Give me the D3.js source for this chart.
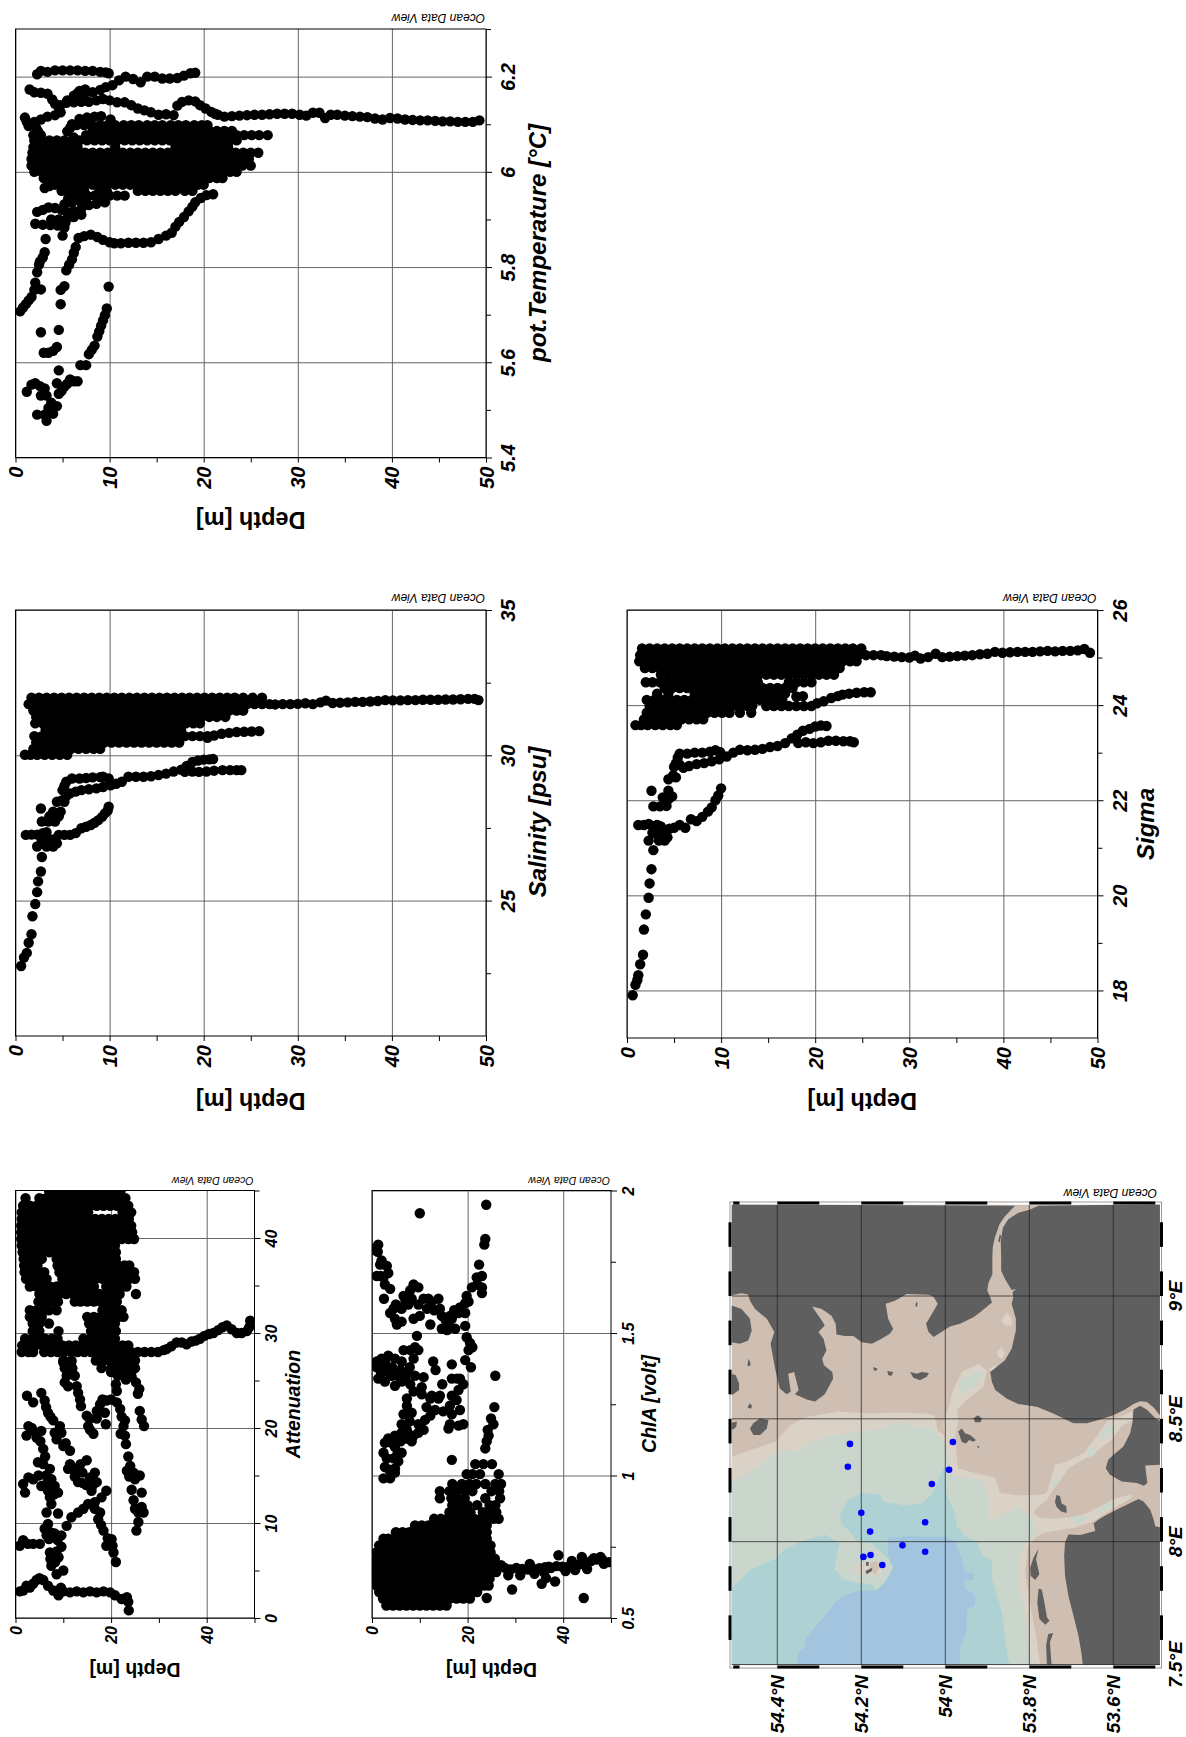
<!DOCTYPE html>
<html>
<head>
<meta charset="utf-8">
<script src="https://cdnjs.cloudflare.com/ajax/libs/d3/7.8.5/d3.min.js"></script>
<style>
  body { margin: 0; background: #fff; }
  text { font-family: "Liberation Sans", Arial, sans-serif; fill: #000; }
</style>
</head>
<body>
<svg id="page" width="1186" height="1737"></svg>
<script>
// Rows: [value, [depths...]] for the dense traces, pairs: [depth, value] for the loose ones.
const tempRows = [
  [6.098,[6.5,7.3,8.1,9,9.8,10.6,11.5,12.3,13.1,14,14.8,15.6,16.5,17.3,18.1,19,19.8,20.4]],
  [6.086,[8.2,9,9.8,10.6,11.5,12.3,13.1,14,14.8,15.6,16.5,17.3,18.1,19,19.8,20.6,21.4,22.2,23]],
  [6.077,[1.9,2.7,7.5,8.3,9.1,9.9,10.7,11.5,12.3,13.1,13.9,14.7,15.5,16.3,17.1,17.9,18.7,19.5,20.3,21.1,21.9,22.7,23.5,24.3,25.1,25.9,26.8]],
  [6.066,[2,2.8,3.6,4.4,5.2,6,6.8,7.6,8.4,9.2,10,10.8,11.6,12.4,13.2,14,14.8,15.6,16.4,17.2,18,18.8,19.6,20.4,21.2,22,22.8,23.5]],
  [6.052,[1.9,2.7,3.5,4.3,5.1,5.9,6.6,10.6,17,17.8,18.6,19.4,20.2,21,21.8,22.6]],
  [6.04,[1.8,2.6,3.4,4.2,5,5.8,6.6,7.4,8.2,9,9.8,10.6,11.4,12.2,13,13.8,14.6,15.4,16.2,17,17.8,18.6,19.4,20.2,21,21.8,22.6,23.4,24.2,25,25.8]],
  [6.027,[1.7,2.5,3.3,4.1,4.9,5.7,6.5,7.3,8.1,8.9,9.7,10.5,11.3,12.1,12.9,13.7,14.5,15.3,16.1,16.9,17.7,18.5,19.3,20.1,20.9,21.7,22.5,23.3,24.1,24.8]],
  [6.013,[1.7,2.5,3.3,4.1,4.9,5.7,6.5,7.3,8.1,8.9,9.7,10.5,11.3,12.1,12.9,13.7,14.5,15.3,16.1,16.9,17.7,18.5,19.3,20.1,20.9,21.7,22.5,23.3,24.1,25]],
  [6.0,[2,2.8,3.6,4.4,5.2,6,6.8,7.6,8.4,9.2,10,10.8,11.6,12.4,13.2,14,14.8,15.6,16.4,17.2,18,18.8,19.6,20.4,21.2,22,22.8,23.5]],
  [5.987,[3,3.8,4.6,5.4,6.2,7,7.8,8.6,9.4,10.2,11,11.8,12.6,13.4,14.2,15,15.8,16.6,17.4,18.2,19,19.8,20.6,21.4,22]],
  [5.973,[4.2,5,5.8,6.6,7.4,8.2,9,9.8,10.6,11.4,12.2,13,13.8,14.6,15.4,16.2,17,17.8,18.6,19.4,20]],
  [5.96,[4.9,5.7,6.5,7.3,8.9,9.7,13,13.8,14.6,15.4,16.2,17,18,18.8]],
  [5.95,[6,6.8,7.6,8.4,9.2,10,10.8,11.6]]
];
const tempPts = [
  [21.5,6.12],[22.2,6.116],[23,6.117],[23.8,6.118],[24.6,6.119],[25.4,6.12],[26.2,6.12],[27,6.121],[27.8,6.122],[28.6,6.122],[29.4,6.122],[30.2,6.12],[30.9,6.118],[31.6,6.124],[32.3,6.124],[32.9,6.113],[33.5,6.12],[34.2,6.12],[35,6.118],[35.8,6.117],[36.6,6.116],[37.4,6.115],[38.2,6.112],[39,6.11],[39.8,6.113],[40.6,6.112],[41.4,6.11],[42.2,6.109],[43,6.108],[43.8,6.108],[44.6,6.107],[45.4,6.106],[46.2,6.106],[47,6.105],[47.8,6.105],[48.6,6.105],[49.3,6.108],
  [2.3,6.205],[2.7,6.212],[3.4,6.21],[4.2,6.213],[5,6.213],[5.8,6.213],[6.6,6.213],[7.4,6.212],[8.2,6.212],[9,6.21],[9.6,6.209],[9.9,6.207],
  [6.6,6.165],[7.4,6.165],[8.2,6.167],[9,6.172],[9.6,6.178],[10.3,6.182],[11,6.192],[11.7,6.2],[12.5,6.195],[13.3,6.188],[14,6.2],[14.8,6.2],[15.6,6.196],[16.4,6.196],[17.2,6.197],[17.9,6.202],[18.6,6.207],[19.1,6.208],
  [4.8,6.14],[5.5,6.15],[6.2,6.16],[6.8,6.17],[7.4,6.173],
  [1.5,6.173],[2,6.167],[2.7,6.166],[3.4,6.164],[3.9,6.152],[4.2,6.143],[4.6,6.135],
  [5.4,6.145],[6.2,6.146],[7,6.147],[7.8,6.147],[8.6,6.15],[9.3,6.153],[10,6.15],[10.8,6.146],[11.6,6.146],[12.3,6.14],[13,6.133],[13.7,6.129],[14.4,6.125],[15.2,6.12],[16,6.121],[16.8,6.119],
  [1,6.114],[1.2,6.105],[1.4,6.096],[2,6.105],[2.7,6.11],[3.4,6.116],[4.2,6.119],[4.8,6.125],
  [17.2,6.139],[17.7,6.147],[18.4,6.15],[19.1,6.148],[19.6,6.14],[20.2,6.133],[20.8,6.126],[21.2,6.122],
  [5.8,6.092],[6,6.1],[6.8,6.111],[7.6,6.114],[8.4,6.116],[9.1,6.117],[10.1,6.11],
  [2.4,6.085],[2.2,6.092],[5.5,6.085],[6.2,6.072],
  [0.5,5.707],[0.8,5.715],[1.1,5.722],[1.4,5.73],[1.7,5.737],[2,5.752],[2.1,5.767],[2.7,5.753],[2.3,5.789],[2.5,5.805],[2.6,5.812],[2.9,5.82],[3.1,5.831],[3.2,5.859],
  [2.7,5.663],[4.6,5.668],[4.8,5.722],[4.8,5.752],[5.2,5.76],[4.4,5.632],[3.5,5.62],[4,5.624],[3,5.62],[4.6,5.583],[4.4,5.556],
  [9.9,5.759],[9.7,5.713],[9.5,5.699],[9.3,5.688],[9.1,5.677],[8.9,5.665],[8.7,5.654],[8.4,5.635],[8.1,5.626],[7.8,5.617],[7.5,5.594],[6.9,5.594],[6.6,5.56],[6.2,5.56],[5.8,5.564],[5.2,5.549],[4.6,5.534],[4.4,5.508],[4,5.492],[3.3,5.477],[2.3,5.49],[3.1,5.49],[3.5,5.504],[3.8,5.515],[3.1,5.545],[2.7,5.53],[2.1,5.556],[1.7,5.553],[1.2,5.538],[2.6,5.55],[3.3,5.53],[5.5,5.555],[4.9,5.54],
  [5.4,5.793],[5.7,5.805],[6,5.816],[6.2,5.83],[6.4,5.842],[6.7,5.861],[7.3,5.865],[8,5.868],[8.7,5.863],[9.3,5.857],[10,5.852],[10.5,5.85],[11.2,5.85],[12,5.851],[12.8,5.851],[13.6,5.851],[14.4,5.852],[15.2,5.859],[16,5.866],[16.6,5.872],[17,5.885],[17.4,5.895],[17.9,5.905],[18.4,5.917],[18.8,5.927],[19.1,5.936],[19.7,5.945],[20.3,5.951],[21,5.953],
  [5,5.866],[5.2,5.883],[2.1,5.891],[2.9,5.889],[3.7,5.888],[4.5,5.887],[5.3,5.893],
  [2.3,5.916],[2.9,5.92],[3.5,5.925],[4.2,5.924],[4.9,5.92],[5.5,5.915],[6.2,5.917],[7,5.923],[7.8,5.93],[8.6,5.933],[9.5,5.936],[3.8,5.9],[4.6,5.9],[5.4,5.9],[6.2,5.905],[7,5.91],
  [3.1,5.966],[3.6,5.97],[5.2,5.932],[5.6,5.944],[6,5.935],[6.8,5.94],[7.5,5.942]
];
const salRows = [
  [31.98,[1.7,2.5,3.3,4.1,4.9,5.7,6.5,7.3,8.1,8.9,9.7,10.5,11.3,12.1,12.9,13.7,14.5,15.3,16.1,16.9,17.7,18.5,19.3,20.1,20.9,21.7,22.5,23.3,24.2,25.2,26.2]],
  [31.76,[1.4,2.2,3,3.8,4.6,5.4,6.2,7,7.8,8.6,9.4,10.2,11,11.8,12.6,13.4,14.2,15,15.8,16.6,17.4,18.2,19,19.8,20.6,21.4,22.2,23,23.8,24.6,25.4,26.2,27]],
  [31.54,[1.9,2.7,3.5,4.3,5.1,5.9,6.7,7.5,8.3,9.1,9.9,10.7,11.5,12.3,13.1,13.9,14.7,15.5,16.3,17.1,17.9,18.7,19.5,20.3,21.1,21.9,22.7,23.5,24.2]],
  [31.32,[2.2,3,3.8,4.6,5.4,6.2,7,7.8,8.6,9.4,10.2,11,11.8,12.6,13.4,14.2,15,15.8,16.6,17.4,18.2,19,19.8,20.6,21.4,22.3]],
  [31.1,[2.1,2.9,3.7,4.5,5.3,6.1,6.9,7.7,8.5,9.3,10.1,10.9,11.7,12.5,13.3,14.1,14.9,15.7,16.5,17.3,18.1,18.9,19.6]],
  [30.88,[3.2,4,4.8,5.6,6.4,7.2,8,8.8,9.6,10.4,11.2,12,12.8,13.6,14.4,15.2,16,16.8,17.6]],
  [30.66,[2,2.8,3.6,4.4,5.2,6,6.8,7.6,8.4,9.2,10,10.8,11.6,12.4,13.2,14,14.8,15.6,16.4,17.2,18,18.8,19.6,20.4]],
  [30.44,[2.2,3,3.8,4.6,5.4,6.2,7,7.8,8.6,9.4,10.2,11,11.8,12.6,13.4,14.2,15,15.8,16.6,17.4]],
  [30.22,[1.9,2.7,3.5,4.3,5.1,5.9,6.7,7.5,8.3,9]],
  [30.02,[1,1.6,2.3,3.1,3.9,4.7,5.5]]
];
const salPts = [
  [27.6,31.75],[28.4,31.76],[29.2,31.76],[30,31.77],[30.8,31.79],[31.6,31.76],[32.4,31.82],[33,31.88],[33.7,31.8],[34.5,31.81],[35.3,31.82],[36.1,31.84],[36.9,31.84],[37.7,31.85],[38.5,31.87],[39.3,31.9],[40.1,31.89],[40.9,31.89],[41.7,31.9],[42.5,31.9],[43.3,31.91],[44.1,31.91],[44.9,31.91],[45.7,31.92],[46.5,31.92],[47.3,31.93],[48.1,31.94],[48.8,31.94],[49.2,31.9],
  [20.4,30.6],[21.1,30.68],[21.9,30.74],[22.7,30.77],[23.5,30.8],[24.3,30.81],[25.1,30.82],[25.9,30.83],
  [0.6,22.75],[0.9,23.04],[1.2,23.2],[1.4,23.55],[1.7,23.84],[1.8,24.46],[2.1,24.88],[2.3,25.29],[2.4,25.66],[2.7,26],[2.8,26.5],
  [1.1,27.26],[1.7,27.27],[2.3,27.27],[2.9,27.32],[2.3,26.86],[3.3,27.35],[3.3,26.86],[4,26.86],[4.4,26.97],[4.6,27.26],[3.5,27.08],[2.8,27.08],[4,27.1],
  [5.2,27.26],[5.8,27.26],[6.4,27.32],[7,27.49],[7.5,27.54],[8,27.6],[8.4,27.68],[8.8,27.77],[9.2,27.88],[9.5,28],[9.8,28.1],[9.9,28.23],
  [2.7,28.17],[2.8,27.72],[3.5,27.72],[4.2,27.72],[4.6,27.9],[4.8,28.06],[4,28.06],[3.6,27.9],[4.4,28.4],[4.9,28.45],[5.2,28.4],[5,28.8],[5.4,29.09],[5.2,28.95],[6,29.2],[6.8,29.2],[7.5,29.22],[8.2,29.24],[9,29.25],[9.3,29.26],[9.9,29.2],[5.4,28.6],
  [5.8,28.69],[6.4,28.75],[7,28.8],[7.8,28.83],[8.6,28.86],[9.3,28.91],[10.1,28.97],[10.7,29.02],[11.3,29.09],[12,29.26],[12.8,29.26],[13.6,29.26],[14.4,29.28],[15.2,29.32],[16,29.37],[16.8,29.44],[17.6,29.5],[18.2,29.63],[18.8,29.77],[19.4,29.82],[20,29.85],[20.6,29.86],[21,29.87],
  [18,29.43],[18.8,29.44],[19.5,29.43],[20.3,29.44],[21.1,29.47],[22,29.49],[22.8,29.49],[23.5,29.49],[24,29.49]
];
const sigmaRows = [
  [25.19,[1.6,2.4,3.2,4,4.8,5.6,6.4,7.2,8,8.8,9.6,10.4,11.2,12,12.8,13.6,14.4,15.2,16,16.8,17.6,18.4,19.2,20,20.8,21.6,22.4,23.2,24,24.9]],
  [25.05,[1.4,2.2,3,3.8,4.6,5.4,6.2,7,7.8,8.6,9.4,10.2,11,11.8,12.6,13.4,14.2,15,15.8,16.6,17.4,18.2,19,19.8,20.6,21.4,22.2,23,23.8,24.6,25.4,26.2,27]],
  [24.92,[1.3,2.1,2.9,3.7,4.5,5.3,6.1,6.9,7.7,8.5,9.3,10.1,10.9,11.7,12.5,13.3,14.1,14.9,15.7,16.5,17.3,18.1,18.9,19.7,20.5,21.3,22.1,22.9,23.7,24.4]],
  [24.78,[1.9,2.7,3.5,4.3,5.1,5.9,6.7,7.5,8.3,9.1,9.9,10.7,11.5,12.3,13.1,13.9,14.7,15.5,16.3,17.1,17.9,18.7,19.5,20.3,21.1,21.9,22.6]],
  [24.64,[3.6,4.4,5.2,6,6.8,7.6,8.4,9.2,10,10.8,11.6,12.4,13.2,14,14.8,15.6,16.4,17.2,18,18.8,19.6,20.4,21.2,22]],
  [24.48,[2,2.7,3.5,4.3,5.1,5.9,6.7,7.5,8.3,9.1,9.9,10.7,11.5,12.3,13.1,13.9,17.2,18,18.8,19.6]],
  [24.36,[4,4.8,5.6,6.4,7.2,8,8.8,9.6,10.4,11.2,12,12.8,13.6,14.4,15.2,16,16.8,17.6]],
  [24.24,[3.2,4.4,7.2,8,8.8,9.6,10.4,11.2,12,12.8,13.6,14.4,15.2,16,16.8]],
  [24.11,[2.1,2.9,3.7,4.5,5.3,6.1,6.9,7.7,8.5,9.3,10.1,10.9,11.7,12.5,13.3,14.1,14.9,15.7,16.5]],
  [23.98,[2.4,3.2,4,4.8,5.6,6.4,7.2,8,8.8,9.6,10.4,11.2,12,12.8,13.3,14.8,15.6,16.4,17.2,18,18.8,19.6]],
  [23.84,[2.1,2.9,3.7,4.5,5.3,6.1,6.9,7.7,8.5,9.3,10.1,10.9,12,13.2]],
  [23.7,[1.8,2.6,3.4,4.2,5,5.8,6.6,7.4,8.1]],
  [23.58,[0.9,1.5,2.2,3,3.8,4.6,5.3]]
];
const sigmaPts = [
  [27.6,25.03],[28.4,25.02],[29.2,25.01],[30,25],[30.6,25.04],[31.2,24.98],[32,25.01],[32.8,25.08],[33.5,25.01],[34.3,25.02],[35.1,25.03],[35.9,25.04],[36.7,25.05],[37.5,25.07],[38.3,25.08],[39.1,25.12],[39.9,25.1],[40.7,25.11],[41.5,25.12],[42.3,25.12],[43.1,25.12],[43.9,25.13],[44.7,25.14],[45.5,25.13],[46.3,25.14],[47.1,25.14],[47.9,25.15],[48.6,25.18],[49.2,25.1],
  [20.2,24.04],[20.9,24.08],[21.7,24.15],[22.4,24.19],[22.9,24.22],[23.6,24.24],[24.4,24.26],[25.2,24.27],[25.9,24.27],[18,24.18],[18.7,24.19],
  [0.6,17.9],[0.9,18.12],[1.1,18.22],[1.2,18.32],[1.4,18.55],[1.7,18.75],[1.8,19.28],[2,19.6],[2.3,19.95],[2.4,20.25],[2.6,20.55],[2.8,20.95],
  [1.2,21.48],[1.8,21.48],[2.3,21.5],[2.8,21.45],[3.2,21.48],[3.6,21.45],[2.3,21.15],[3,21.3],[3.4,21.15],[4,21.15],[4.3,21.22],[4.5,21.4],[2.7,21.32],[3.7,21.32],
  [5,21.42],[5.6,21.48],[6.2,21.42],[6.8,21.6],[7.4,21.56],[8,21.65],[8.6,21.76],[9,21.85],[9.4,22],[9.7,22.1],[10,22.25],
  [2.6,22.2],[2.8,21.87],[3.5,21.87],[4.2,21.88],[4.4,22.02],[4.8,22.08],[3.8,22.06],[4.4,22.2],[4.4,22.44],[4.9,22.52],[5.2,22.48],[5,22.7],[5.4,22.9],[5.2,22.78],[5.6,22.98],[6.4,22.98],[7.2,23],[8,23],[8.8,23.02],[9.4,23.05],[9.9,23.01],[5.6,22.75],
  [6,22.68],[6.6,22.72],[7.4,22.76],[8.2,22.78],[9,22.82],[9.8,22.86],[10.6,22.92],[11.3,23],[12,23.06],[12.8,23.05],[13.6,23.06],[14.4,23.08],[15.2,23.12],[16,23.14],[16.8,23.2],[17.5,23.3],[18.1,23.38],[18.7,23.46],[19.4,23.5],[20,23.55],[20.6,23.57],[21.2,23.56],
  [18.2,23.2],[19,23.22],[19.8,23.2],[20.6,23.22],[21.4,23.25],[22.2,23.25],[23,23.24],[23.7,23.24],[24.1,23.22]
];
const attenRows = [
  [45,[7,8.4,9.8,11.2,12.6,14,15.4,16.8,18.2,19.6,21,22]],
  [44.2,[2.1,5,6.4,7.8,9.2,10.6,12,13.4,14.8,16.2,17.6,19,20.4,21.8,23]],
  [43.4,[1.6,3,4.4,5.8,7.2,8.6,10,11.4,12.8,14.2,15.6,17,18.4,19.8,21.2,22.6,23.6]],
  [42.7,[1.3,2.7,4.1,5.5,6.9,8.3,9.7,11.1,12.5,13.9,15.2,22.4,23.8,24.2]],
  [42,[1.3,2.7,4.1,5.5,6.9,8.3,9.7,11.1,12.5,13.9,15.3,16.7,18.1,19.5,20.9,22.3,23.7]],
  [41.3,[1.2,2.6,4,5.4,6.8,8.2,9.6,11,12.4,13.8,15.2,16.6,18,19.4,20.8,22.2,23.6,24.2]],
  [40.6,[1.2,2.6,4,5.4,6.8,8.2,9.6,11,12.4,13.8,15.2,16.6,18,19.4,20.8,22.2,23.6,24.4]],
  [39.9,[1.2,2.6,4,5.4,6.8,8.2,9.6,11,12.4,13.8,15.2,16.6,18,19.4,20.8,22.2,23.6,24.8]],
  [39.2,[1.3,2.7,4.1,5.5,6.9,8.3,9.7,11.1,12.5,13.9,15.3,16.7,18.1,19.5,20.8]],
  [38.5,[1.5,2.9,4.3,5.7,7.1,8.5,9.9,11.3,12.7,14.1,15.5,16.9,18.3,19.7,21]],
  [37.8,[1.7,3.1,4.5,5.5,8.6,10,11.4,12.8,14.2,15.6,17,18.4,19.8,21]],
  [37.1,[1.8,3.2,4.6,8.8,10.2,11.6,13,14.4,15.8,17.2,18.6,20,21.4,22.8,23.8]],
  [36.4,[1.9,3.3,4.7,6,9.2,10.6,12,13.4,14.8,16.2,17.6,19,20.4,21.8,23.2,24.8]],
  [35.7,[2.2,3.6,5,6.5,9.8,11.2,12.6,14,15.4,16.8,18.2,19.6,21,22.4,23.8,25]],
  [34.9,[3,4.4,5.8,7.2,8.6,10,11.4,12.8,14.2,15.6,16.4,19,20.4,21.8,23.2]],
  [34.1,[5,6.4,7.8,9.2,10.6,12,13.4,14.8,16.2,17.6,19,20.4,21.8,25.2]],
  [33.3,[4.8,6.2,7.6,8.9,12.4,13.6,15,16.4,17.8,19.2,20.6,21.2]],
  [32.4,[3,4.4,5.8,7,8.6,18.2,19.6,21,22.2]],
  [31.7,[3,4.3,5.5,15,16.4,17.8,19.2,20.6,21.6,22.6]],
  [31,[3.6,5,7,15.4,16.8,18.2,19.6,20.8]],
  [30.2,[3.6,5,9,15.8,17.2,18.6,20,21]],
  [29.4,[2,3.4,4.8,6.2,7.6,8.8,14.2,15.6,17,18.4,19.8,20.8]],
  [28.7,[1.4,2.8,4.2,5.6,7,8.4,9.8,11.2,12.6,14,15.4,16.8,18.2,19.6,21,22.4,23.6]],
  [28,[1.3,2.7,3.7,6,7.4,8.8,10.2,11.6,13,14.4,15.8,17.2,18.6,20,21.4,22.8,24.2,25.6,27,28.4]],
  [27.1,[10,11.7,16.8,18.2,19.6,21,22.4,23.8,25]],
  [26.3,[10.3,11.9,18,20,21.3,22.6,24,25]]
];
const attenPts = [
  [29.8,28],[31,28.2],[31.6,28.3],[32.6,28.6],[33.7,29],[34.8,29],[35.8,28.8],[36.8,29.1],[37.7,29.2],[38.6,29.4],[39.5,29.7],[40.5,29.9],[41.4,30],[42.4,30.3],[43.3,30.6],[44.2,30.8],[45.2,30.4],[46.3,30],[47.3,30],[48.4,30.2],[48.9,30.6],[49.1,31.3],
  [23.7,0.8],[23.6,1.7],[23.3,2.2],[22.2,2],[20.8,2.4],[19.8,2.7],[18.4,2.8],[17,2.7],[15.6,2.8],[14.2,2.7],[12.8,2.8],[11.4,2.7],[10,2.8],[9,2.4],[7.9,2.9],[6.8,3.4],[5.8,4],[5,4.2],[3.7,3.6],[2.3,3.4],[0.9,2.8],[1.6,2.9],[3,3.2],[9.5,3.2],[4.4,4],
  [8.6,4.6],[10,5],[7.5,5.5],[7.9,6.4],[7.2,6.9],[9,6.4],[9.6,7.5],[8.3,5.9],[8.6,7],[7.3,6.2],
  [0.9,7.6],[1.6,8.2],[2.6,7.8],[3.7,7.8],[5.1,7.8],[6.5,8.7],[7.4,9],[8.2,8.9],[9.6,8.7],[10.7,9.7],[11.7,10.6],[13.1,11.1],[14.2,11.5],[15.2,12],[16.6,12.2],[18,12.7],[19,13.4],[6.1,9.4],[7,8.3],[8.8,8.2],
  [21,5.9],[20.5,6.9],[20.1,8.3],[19,7.6],[19.3,8.4],[18.4,9.2],[17.3,10.4],[17.7,11.1],[16.6,11.5],[20.3,7.6],[17.9,9.8],
  [25.3,9.2],[25.7,10.1],[26.8,11.1],[25,11.5],[26.4,11.7],[24.7,12.4],[26.4,13.2],[24.3,13.5],[26,15],[24.7,15.3],[23.3,15.5],[24,16],[23.6,17],[25,14.6],[23.8,14.9],[25.7,11.1],
  [23.1,18.3],[22.9,19.2],[22.6,20.2],[22.9,20.8],[21.9,22],[21.2,23.9],[21.2,22.7],[22.2,21.2],[22,19.4],
  [26.9,20.2],[26.4,20.9],[26,21.8],[25.6,23.6],[25.9,24.1],[25.2,24.8],
  [10,18.1],[11.4,17.6],[10.5,18.4],[11.4,16.2],[11,15.7],[12.4,15.5],[14.9,16.6],[13.6,16.2],[14,15.3],[12.4,14.9],[13.1,14.3],[16.6,15.3],[15.6,14.8],[17,14.3],[15.9,13.4],[14.1,14.2],[13.1,15.8],[14.8,14],[16.2,14],
  [2.4,23.4],[3.7,22.7],[5.4,23.7],[6.1,22.9],[6.8,21.6],[6.4,22.2],[7.9,20.8],[7.3,21.2],[9.3,20.2],[8.2,19.5],[9.6,19.5],[8.6,18.8],[2.7,20.2],[2.3,19.2],[3.7,19.7],[5.4,19.7],[4.4,19],[3.4,20],[5.8,17.8],[5.2,18.6],[4.7,16.4],[5.8,16.2],[6.2,17],[7.2,15.7],[6.4,15],[7.5,14.6],[2.7,14.8],[1.6,14.1],[2,13.2],[3.7,14.6],[5.4,13.9],[6.6,14.2],[8.2,13.9],[8.9,13.2],[7.2,12.7],[7.5,12],[6.5,11.1],[8.9,11],[6.8,9.9],[8,13],[6.8,13.4],[4.8,15],
  [10,26.9],[10.7,25.5],[11,24.4],[10.3,24.8],[11.7,27],[12.4,25.5],[12.8,24.4],[13.5,23],[13.1,23.7],[13.7,22.3],[14.9,21.3],[15.2,20.2],[16.3,19.4],[15.6,19.8],[17,21.8],[17.7,22.5],[19,22.9],[20,23],[18.7,21.6],[17,21],[18.9,20.4],[15.5,21],[18.2,23],[11.8,26],[10.9,26],
  [20,25.9],[21,24.6],[22.9,26.1],[24.7,26.2],[24.3,25.4],[21.4,25.5],[23.1,25.1],[22,26],[24.5,27.2]
];
const chlRows = [
  [0.544,[3,4.4,5.8,7.2,8.6,10,11.4,12.8,14.2,15.6]],
  [0.568,[2.3,3.7,5.1,6.5,7.9,9.3,10.7,12.1,13.5,14.9,16.3,17.7,19.1,20.5]],
  [0.591,[1.5,2.9,4.3,5.7,7.1,8.5,9.9,11.3,12.7,14.1,15.5,16.9,18.3,19.7,21.1,22]],
  [0.614,[1,2.4,3.8,5.2,6.6,8,9.4,10.8,12.2,13.6,15,16.4,17.8,19.2,20.6,22,23.4,24.4]],
  [0.638,[0.8,2.2,3.6,5,6.4,7.8,9.2,10.6,12,13.4,14.8,16.2,17.6,19,20.4,21.8,23.2,24.6]],
  [0.661,[0.8,2.2,3.6,5,6.4,7.8,9.2,10.6,12,13.4,14.8,16.2,17.6,19,20.4,21.8,23.2,24.6,26]],
  [0.685,[0.8,2.2,3.6,5,6.4,7.8,9.2,10.6,12,13.4,14.8,16.2,17.6,19,20.4,21.8,23.2,24.6,26,27]],
  [0.708,[1,2.4,3.8,5.2,6.6,8,9.4,10.8,12.2,13.6,15,16.4,17.8,19.2,20.6,22,23.4,24.8,25.7]],
  [0.731,[1,2.4,3.8,5.2,6.6,8,9.4,10.8,12.2,13.6,15,16.4,17.8,19.2,20.6,22,23.4,24.8]],
  [0.755,[1.5,2.9,4.3,5.7,7.1,8.5,9.9,11.3,12.7,14.1,15.5,16.9,18.3,19.7,21.1,22.5,23.9,24.8]],
  [0.778,[2.4,3.4,4.8,6.2,7.6,9,10.4,11.8,13.2,14.6,16,17.4,18.8,20.2,21.6,23,24]],
  [0.801,[5,6.4,7.8,9.2,10.6,12,13.4,14.8,16.2,17.6,19,20.4,21.8,23.2,24]],
  [0.825,[9,10.4,11.8,13.2,14.6,16,17.4,18.8,20.2,21.6,23,24]],
  [0.848,[13,14.4,15.8,17.2,18.6,20,21.4,22.8,24.2,25.4,26.5]],
  [0.871,[16.2,17.6,19,20.6,23.2,25,26]],
  [0.896,[16.8,18.2,20,22,25.8,24.6]],
  [0.92,[14.2,16.6,17.8,19.4,23.7,26.8]],
  [0.945,[14.2,16.2,17.6,19.4,21,25,26.6]],
  [0.97,[16.8,18.8,20.4,21.8,23.7,25.8,27]],
  [1.005,[19.8,21,22.6,26.5]],
  [1.04,[21.6,23.3,25.1]]
];
const chlPts = [
  [27.8,0.676],[29,0.67],[30.2,0.676],[31.4,0.672],[32.6,0.67],[33.8,0.672],[35,0.675],[36.2,0.678],[37.4,0.675],[38.6,0.682],[39.8,0.68],[41,0.68],[42.2,0.686],[43.4,0.688],[44.6,0.692],[45.8,0.7],[47,0.705],[48.2,0.705],[49.5,0.696],[47.8,0.714],[46.4,0.71],[43.9,0.714],[41.8,0.7],[39,0.72],[36,0.66],[34,0.655],[31,0.65],[28.5,0.65],[40.5,0.665],[42.5,0.668],[45,0.672],[48.5,0.69],[37,0.68],[33,0.69],
  [44.3,0.57],[24,0.57],[29.3,0.6],[35.5,0.62],[36.4,0.64],[38.3,0.628],
  [23.9,1.95],[10,1.92],[23.7,1.83],[23.5,1.81],[0.9,1.8],[1.3,1.81],[0.7,1.79],[1.2,1.785],
  [2,1.755],[1.7,1.74],[3.1,1.735],[3.4,1.71],[1,1.7],[2.4,1.695],[2.7,1.67],[3.8,1.655],[2.5,1.62],[1.8,1.7],
  [22.4,1.74],[23,1.7],[21.9,1.695],[23,1.66],[23,1.64],[20.9,1.66],[19.8,1.63],[19.5,1.605],[18.4,1.59],[19.5,1.57],[19.5,1.525],[20.2,1.61],[22,1.67],
  [8.7,1.67],[9.7,1.66],[8,1.65],[6.6,1.63],[8.3,1.62],[10.8,1.62],[13.9,1.62],[12.5,1.61],[7.6,1.6],[4.5,1.585],[9.7,1.6],[6.2,1.585],[3.8,1.57],[11.5,1.585],[14.2,1.585],[8.7,1.55],[10,1.56],[4.8,1.55],[6.2,1.54],[5.2,1.53],[12.2,1.53],[14.6,1.56],[16.3,1.56],[18.1,1.57],[14.6,1.515],[16,1.525],[17.4,1.515],[15.7,1.51],[16.7,1.55],[17.2,1.58],[13,1.58],[5,1.6],[7,1.61],[11.8,1.62],[15.4,1.545],
  [9.4,1.49],[19.8,1.485],[20.5,1.465],[21,1.45],[20.2,1.44],[19.5,1.405],[20.7,1.38],[9,1.45],[9.7,1.44],[6.6,1.44],[8,1.44],
  [3.4,1.42],[2,1.41],[1,1.4],[2.7,1.4],[4.8,1.41],[1,1.38],[4.2,1.38],[2.4,1.375],[6.2,1.4],[8.7,1.41],[5.9,1.37],[7.3,1.36],[1.3,1.34],[2.7,1.33],[4.8,1.315],[4.1,1.35],[6.2,1.33],[7.9,1.38],[9,1.35],[3.6,1.36],[5.4,1.35],[7,1.34],[8,1.32],[1.9,1.36],
  [12.8,1.4],[13.3,1.37],[16.7,1.39],[16.7,1.34],[18.4,1.34],[19.1,1.32],[14.7,1.32],[25.8,1.35],[25.6,1.24],[24.9,1.2],[25.4,1.18],[24.4,1.14],[24,1.12],[23.7,1.095],[24.2,1.16],[16.7,1.055],[10.8,1.345],[17.8,1.34],
  [7.3,1.27],[8.7,1.295],[10.4,1.31],[12.5,1.28],[14.2,1.28],[16.7,1.28],[18.1,1.3],[17.7,1.265],[16.3,1.245],[13.9,1.27],[12.2,1.27],[10.4,1.285],[11.4,1.24],[13.2,1.23],[14.9,1.225],[18.4,1.23],[16.7,1.215],[19.1,1.18],[18.1,1.175],[16.3,1.18],[16,1.165],[7.3,1.245],[6.6,1.215],[8.3,1.22],[7.9,1.19],[6.2,1.18],[7.3,1.16],[9.7,1.18],[12.2,1.21],[11.1,1.195],[10.8,1.16],[9.7,1.15],[8.7,1.14],[7.3,1.13],[8.3,1.12],[6.2,1.15],[4.8,1.14],[3.4,1.13],[2.7,1.115],[2.4,1.08],[4.1,1.115],[4.8,1.1],[6.2,1.08],[4.5,1.06],[5.5,1.05],[3.1,1.06],[4.8,1.025],[2.7,1.03],[2.4,0.99],[3.8,0.99],[4.8,1.01],[3.6,1.02],[6,1.12],[5.2,1.07]
];
const stationLat = [54.227,54.232,54.032,54.2,54.048,54.179,54.102,54.048,54.178,54.195,54.15,53.982,53.991];
const stationLon = [8.398,8.305,8.235,8.118,8.079,8.041,7.985,7.959,7.946,7.938,7.905,8.406,8.293];
const mapLatTicks = [54.4,54.2,54,53.8,53.6];
const mapLonTicks = [7.5,8,8.5,9];
const latBands = [[54.505,54.49],[54.4,54.3],[54.2,54.1],[54,53.9],[53.8,53.7],[53.6,53.5]];
const lonBands = [[9.3,9.2],[9.1,9],[8.9,8.8],[8.7,8.6],[8.5,8.4],[8.3,8.2],[8.1,8],[7.9,7.8],[7.7,7.6]];

// depth contours, [lat, lon]
const shelfLight = [
  [[54.509,8.347],[54.461,8.374],[54.406,8.407],[54.386,8.441],[54.37,8.475],[54.326,8.509],[54.255,8.529],[54.175,8.522],[54.112,8.526],[54.048,8.522],[54.026,8.515],[54.017,8.448],[54.001,8.434],[53.977,8.421],[53.973,8.347],[53.969,8.299],[53.925,8.276],[53.882,8.263],[53.87,8.198],[53.83,8.189],[53.774,8.191],[53.758,8.198],[53.747,8.266],[53.739,8.313],[53.711,8.326],[53.671,8.36],[53.639,8.428],[53.616,8.488],[53.556,8.529],[53.554,8.495],[53.58,8.471],[53.604,8.414],[53.635,8.374],[53.671,8.333],[53.707,8.299],[53.723,8.259],[53.743,8.212],[53.758,8.171],[53.782,8.137],[53.79,8.117],[53.774,8.097],[53.739,8.093],[53.679,8.104],[53.639,8.137],[53.592,8.178],[53.56,8.191],[53.554,8.181],[53.584,8.151],[53.624,8.11],[53.647,8.083],[53.695,8.056],[53.766,8.036],[53.786,8.016],[53.802,7.982],[53.806,7.928],[53.81,7.874],[53.805,7.82],[53.794,7.712],[53.785,7.631],[53.774,7.5],[54.509,7.5]],
  [[53.993,8.542],[53.981,8.617],[53.961,8.691],[53.921,8.722],[53.901,8.698],[53.909,8.63],[53.945,8.583],[53.973,8.536],[53.969,8.495],[53.977,8.421],[54.001,8.428],[54.005,8.482]],
  [[53.866,8.9],[53.854,8.934],[53.842,8.907],[53.842,8.88],[53.858,8.88]],
  [[53.878,8.772],[53.866,8.792],[53.858,8.765],[53.866,8.745],[53.874,8.752]],
  [[53.897,8.704],[53.881,8.718],[53.878,8.704],[53.889,8.691]]
];
const shelfGrey = [
  [[54.509,8.245],[54.477,8.272],[54.445,8.306],[54.414,8.353],[54.386,8.376],[54.354,8.367],[54.326,8.401],[54.287,8.425],[54.231,8.441],[54.175,8.455],[54.152,8.461],[54.124,8.482],[54.104,8.488],[54.072,8.468],[54.032,8.461],[54.017,8.434],[54.001,8.407],[53.994,8.34],[53.981,8.272],[53.965,8.263],[53.909,8.249],[53.897,8.184],[53.897,8.097],[53.882,8.09],[53.826,8.144],[53.806,8.11],[53.786,8.066],[53.778,8.043],[53.806,8.002],[53.818,7.969],[53.826,7.915],[53.828,7.847],[53.818,7.766],[53.808,7.658],[53.8,7.577],[53.794,7.5],[54.509,7.5]],
  [[53.703,8.097],[53.671,8.11],[53.659,8.097],[53.683,8.07]],
  [[53.639,8.131],[53.608,8.164],[53.6,8.144],[53.631,8.11]],
  [[53.751,8.239],[53.731,8.266],[53.727,8.245],[53.743,8.225]],
  [[53.663,8.374],[53.643,8.387],[53.639,8.36],[53.659,8.34]],
  [[53.635,8.441],[53.608,8.482],[53.6,8.461],[53.624,8.414]],
  [[53.965,8.657],[53.921,8.698],[53.909,8.684],[53.933,8.63],[53.957,8.603],[53.969,8.617]]
];
const shelfTeal = [
  [54.509,7.813],[54.485,7.847],[54.469,7.881],[54.437,7.908],[54.406,7.928],[54.382,7.969],[54.342,8.002],[54.287,8.029],[54.251,7.993],[54.259,7.942],[54.263,7.888],[54.243,7.847],[54.207,7.831],[54.175,7.826],[54.163,7.804],[54.145,7.834],[54.134,7.867],[54.124,7.894],[54.136,7.928],[54.155,7.962],[54.175,7.993],[54.211,8.002],[54.227,8.043],[54.247,8.07],[54.251,8.11],[54.231,8.171],[54.199,8.198],[54.155,8.191],[54.148,8.164],[54.096,8.147],[54.056,8.155],[54.028,8.198],[54.017,8.252],[54.001,8.313],[53.998,8.198],[53.977,8.117],[53.973,8.063],[53.953,8.023],[53.925,8.002],[53.913,7.948],[53.889,7.921],[53.889,7.847],[53.874,7.766],[53.862,7.685],[53.858,7.604],[53.85,7.523],[53.847,7.5],[54.509,7.5]
];
const shelfBlue = [
  [54.352,7.5],[54.35,7.55],[54.334,7.57],[54.334,7.604],[54.314,7.645],[54.29,7.692],[54.263,7.753],[54.243,7.78],[54.207,7.8],[54.163,7.8],[54.144,7.834],[54.132,7.861],[54.124,7.894],[54.136,7.942],[54.137,8.02],[54.12,8.016],[54.088,8.023],[54.048,8.02],[54.001,8.02],[53.977,8.002],[53.969,7.969],[53.961,7.928],[53.953,7.874],[53.933,7.871],[53.933,7.847],[53.955,7.84],[53.953,7.807],[53.929,7.786],[53.929,7.739],[53.949,7.726],[53.949,7.631],[53.957,7.604],[53.965,7.57],[53.965,7.5]
];
const helgolandBank = [[54.225,7.885],[54.191,7.921],[54.155,7.919],[54.151,7.874],[54.167,7.861],[54.207,7.867]];
const helgolandFlat = [[54.179,7.915],[54.163,7.921],[54.158,7.894],[54.167,7.863],[54.179,7.888]];

const land = [
  // north of the estuary
  [[54.509,9.373],[53.834,9.367],[53.858,9.325],[53.871,9.292],[53.882,9.238],[53.887,9.197],[53.888,9.157],[53.888,9.089],[53.897,9.055],[53.9,9.022],[53.893,8.995],[53.889,8.974],[53.917,8.934],[53.933,8.914],[53.965,8.887],[53.989,8.876],[54.013,8.849],[54.028,8.833],[54.04,8.853],[54.046,8.887],[54.032,8.927],[54.018,8.968],[54.028,8.997],[54.04,9.005],[54.092,9.008],[54.12,8.981],[54.142,8.968],[54.136,8.907],[54.124,8.866],[54.132,8.846],[54.152,8.826],[54.175,8.806],[54.199,8.812],[54.219,8.837],[54.239,8.837],[54.259,8.843],[54.261,8.887],[54.271,8.92],[54.294,8.947],[54.317,8.957],[54.294,8.9],[54.287,8.88],[54.302,8.853],[54.29,8.826],[54.283,8.779],[54.293,8.745],[54.289,8.718],[54.269,8.691],[54.267,8.664],[54.287,8.6],[54.31,8.571],[54.33,8.579],[54.358,8.6],[54.349,8.617],[54.36,8.691],[54.374,8.684],[54.368,8.61],[54.378,8.6],[54.394,8.623],[54.399,8.657],[54.406,8.711],[54.416,8.806],[54.407,8.853],[54.425,8.907],[54.453,8.947],[54.465,8.981],[54.469,9.005],[54.485,9.011],[54.505,9.005],[54.509,9.001]],
  // east of the estuary
  [[53.778,9.367],[53.798,9.352],[53.826,9.339],[53.85,9.312],[53.863,9.278],[53.868,9.224],[53.867,9.157],[53.867,9.103],[53.858,9.069],[53.842,9.024],[53.832,9.028],[53.84,9.015],[53.838,8.995],[53.842,8.968],[53.832,8.907],[53.832,8.86],[53.842,8.785],[53.858,8.738],[53.878,8.711],[53.893,8.691],[53.889,8.65],[53.881,8.617],[53.854,8.583],[53.826,8.56],[53.782,8.549],[53.743,8.522],[53.695,8.482],[53.663,8.482],[53.635,8.495],[53.6,8.515],[53.572,8.538],[53.552,8.56],[53.536,8.572],[53.52,8.569],[53.504,8.546],[53.489,8.515],[53.489,9.373]],
  [[53.552,8.538],[53.536,8.553],[53.519,8.536],[53.5,8.502],[53.489,8.492],[53.489,8.313],[53.524,8.31],[53.519,8.239],[53.527,8.228],[53.544,8.239],[53.58,8.245],[53.608,8.272],[53.618,8.299],[53.612,8.333],[53.6,8.353],[53.576,8.387],[53.56,8.441],[53.554,8.488]],
  [[53.54,8.174],[53.556,8.16],[53.584,8.137],[53.616,8.11],[53.635,8.09],[53.647,8.074],[53.643,8.043],[53.679,8.027],[53.707,8.029],[53.715,7.996],[53.717,7.942],[53.715,7.861],[53.707,7.78],[53.695,7.699],[53.683,7.618],[53.675,7.537],[53.673,7.5],[53.489,7.5],[53.489,8.059],[53.5,8.063],[53.504,8.09],[53.512,8.13],[53.528,8.164]],
  [[54.509,8.961],[54.485,8.947],[54.465,8.907],[54.461,8.86],[54.469,8.819],[54.489,8.806],[54.509,8.812]],
  [[54.509,8.684],[54.499,8.677],[54.491,8.644],[54.491,8.617],[54.505,8.6],[54.509,8.596]],
  [[54.469,8.745],[54.465,8.731],[54.463,8.718],[54.471,8.714]],
  [[54.465,8.563],[54.46,8.552],[54.463,8.541],[54.471,8.546]],
  [[54.07,8.974],[54.066,8.974],[54.067,8.957],[54.071,8.957]],
  [[54.171,8.711],[54.161,8.704],[54.166,8.695],[54.171,8.7]],
  [[54.138,8.695],[54.124,8.691],[54.128,8.675],[54.136,8.677]],
  [[54.084,8.691],[54.068,8.684],[54.056,8.691],[54.039,8.687],[54.044,8.671],[54.06,8.657],[54.076,8.667]],
  [[54.509,8.484],[54.496,8.488],[54.498,8.468],[54.505,8.457],[54.509,8.457]],
  [[54.465,8.461],[54.457,8.482],[54.441,8.502],[54.421,8.495],[54.425,8.461],[54.441,8.434],[54.457,8.434]],
  [[53.87,9.251],[53.867,9.244],[53.871,9.217],[53.874,9.224]],
  [[54.189,7.917],[54.182,7.917],[54.183,7.901],[54.188,7.901]],
  [[54.19,7.881],[54.174,7.894],[54.175,7.881],[54.187,7.867]],
  [[53.933,8.502],[53.923,8.515],[53.913,8.502],[53.916,8.486],[53.929,8.486]],
  [[53.969,8.448],[53.961,8.461],[53.953,8.441],[53.941,8.434],[53.927,8.414],[53.933,8.407],[53.943,8.414],[53.951,8.4],[53.961,8.407]],
  [[53.925,8.39],[53.919,8.387],[53.921,8.378]],
  [[53.735,8.191],[53.727,8.185],[53.723,8.155],[53.712,8.144],[53.711,8.117],[53.725,8.124],[53.735,8.141],[53.739,8.161]],
  [[53.778,7.971],[53.784,7.928],[53.776,7.867],[53.786,7.844],[53.797,7.861],[53.798,7.894],[53.79,7.935]],
  [[53.778,7.809],[53.77,7.804],[53.764,7.752],[53.758,7.692],[53.752,7.678],[53.762,7.662],[53.776,7.685],[53.781,7.752]],
  [[53.755,7.624],[53.743,7.628],[53.751,7.591],[53.747,7.5],[53.758,7.5],[53.76,7.577]]
];

const svg = d3.select('#page');
const defs = svg.append('defs');
let clipCount = 0;

const expand = (rows, pts) => rows.flatMap(r => r[1].map(d => [d, r[0]])).concat(pts);

function rotatedLabel(g, x, y, rot, size, txt, anchor, italic) {
    g.append('text')
        .attr('transform', 'translate(' + x + ',' + y + ') rotate(' + rot + ')')
        .attr('text-anchor', anchor || 'middle')
        .attr('dy', '.35em')
        .attr('font-size', size)
        .attr('font-weight', 'bold')
        .attr('font-style', italic === false ? 'normal' : 'italic')
        .text(txt);
}

function odvLabel(x, y, size) {
    svg.append('text')
        .attr('transform', 'translate(' + x + ',' + y + ') rotate(180)')
        .attr('dy', '.35em')
        .attr('font-size', size)
        .attr('font-style', 'italic')
        .text('Ocean Data View');
}

function profilePanel(p) {
    const x = d3.scaleLinear().domain([0, 50]).range([p.x0, p.x1]);
    const y = d3.scaleLinear().domain(p.domain).range([p.y1, p.y0]);
    const g = svg.append('g');
    const h = p.y1 - p.y0, w = p.x1 - p.x0;

    // grid
    g.append('g').attr('transform', 'translate(0,' + p.y1 + ')')
        .call(d3.axisBottom(x).tickValues(p.depthMajor).tickSize(-h).tickFormat(''))
        .call(s => s.select('.domain').remove())
        .selectAll('line').attr('stroke', '#666');
    g.append('g').attr('transform', 'translate(' + p.x1 + ',0)')
        .call(d3.axisRight(y).tickValues(p.valMajor).tickSize(-w).tickFormat(''))
        .call(s => s.select('.domain').remove())
        .selectAll('line').attr('stroke', '#666');

    // points
    const id = 'clip' + (clipCount++);
    defs.append('clipPath').attr('id', id).append('rect')
        .attr('x', p.x0).attr('y', p.y0).attr('width', w).attr('height', h);
    g.append('g').attr('clip-path', 'url(#' + id + ')')
        .selectAll('circle').data(p.points).join('circle')
        .attr('cx', d => x(d[0])).attr('cy', d => y(d[1])).attr('r', 5.2).attr('fill', '#000');

    g.append('rect').attr('x', p.x0).attr('y', p.y0).attr('width', w).attr('height', h)
        .attr('fill', 'none').attr('stroke', '#000');

    // axes
    const bottom = g.append('g').attr('transform', 'translate(0,' + p.y1 + ')')
        .call(d3.axisBottom(x).tickValues(p.depthMajor).tickSize(5));
    bottom.select('.domain').remove();
    bottom.selectAll('text')
        .attr('x', -p.depthGap).attr('y', 0).attr('dy', '.35em')
        .attr('transform', 'rotate(-90)')
        .style('text-anchor', 'end')
        .attr('font-size', p.tickSize).attr('font-weight', 'bold').attr('font-style', 'italic');
    g.append('g').attr('transform', 'translate(0,' + p.y1 + ')')
        .call(d3.axisBottom(x).tickValues(p.depthMinor).tickSize(5).tickFormat(''))
        .select('.domain').remove();

    const right = g.append('g').attr('transform', 'translate(' + p.x1 + ',0)')
        .call(d3.axisRight(y).tickValues(p.valMajor).tickSize(6).tickFormat(d3.format(p.fmt)));
    right.select('.domain').remove();
    right.selectAll('text')
        .attr('x', 0).attr('y', 0).attr('dy', '.35em')
        .attr('transform', 'translate(' + p.valGap + ',0) rotate(-90)')
        .style('text-anchor', 'middle')
        .attr('font-size', p.tickSize).attr('font-weight', 'bold').attr('font-style', 'italic');
    g.append('g').attr('transform', 'translate(' + p.x1 + ',0)')
        .call(d3.axisRight(y).tickValues(p.valMinor).tickSize(5).tickFormat(''))
        .select('.domain').remove();

    rotatedLabel(svg, p.title[1], p.title[2], -90, p.titleSize, p.title[0]);
    rotatedLabel(svg, (p.x0 + p.x1) / 2, p.depthY, 180, p.titleSize === 24 ? 23.5 : 19.5, 'Depth [m]', 'middle', false);
    odvLabel(p.x1 - 1, p.odvY, p.odvSize);
}

const dMajor = [0, 10, 20, 30, 40, 50], dMinor = [5, 15, 25, 35, 45];
profilePanel({
    x0: 15.5, x1: 486, y0: 29, y1: 457.5, domain: [5.4, 6.3], points: expand(tempRows, tempPts),
    depthMajor: dMajor, depthMinor: dMinor, valMajor: [5.4, 5.6, 5.8, 6, 6.2], valMinor: [5.5, 5.7, 5.9, 6.1, 6.3],
    fmt: '~g', tickSize: 20, titleSize: 24, depthGap: 9, valGap: 22, depthY: 520, odvY: 18, odvSize: 12,
    title: ['pot.Temperature [°C]', 538, 243]
});
profilePanel({
    x0: 15.5, x1: 486, y0: 610, y1: 1036, domain: [20.34, 35], points: expand(salRows, salPts),
    depthMajor: dMajor, depthMinor: dMinor, valMajor: [25, 30, 35], valMinor: [22.5, 27.5, 32.5],
    fmt: '~g', tickSize: 20, titleSize: 24, depthGap: 9, valGap: 22, depthY: 1101, odvY: 598, odvSize: 12,
    title: ['Salinity [psu]', 538, 822]
});
profilePanel({
    x0: 627, x1: 1097.5, y0: 610, y1: 1038, domain: [17, 26], points: expand(sigmaRows, sigmaPts),
    depthMajor: dMajor, depthMinor: dMinor, valMajor: [18, 20, 22, 24, 26], valMinor: [19, 21, 23, 25],
    fmt: '~g', tickSize: 20, titleSize: 24, depthGap: 9, valGap: 22, depthY: 1101, odvY: 598, odvSize: 12,
    title: ['Sigma', 1146, 824]
});
profilePanel({
    x0: 15.5, x1: 254.5, y0: 1190.5, y1: 1618, domain: [0, 45], points: expand(attenRows, attenPts),
    depthMajor: [0, 20, 40], depthMinor: [10, 30, 50], valMajor: [0, 10, 20, 30, 40], valMinor: [5, 15, 25, 35, 45],
    fmt: '~g', tickSize: 16, titleSize: 19.5, depthGap: 8, valGap: 17, depthY: 1670, odvY: 1180.5, odvSize: 10.5,
    title: ['Attenuation', 293, 1404]
});
profilePanel({
    x0: 372, x1: 611, y0: 1190.5, y1: 1618, domain: [0.5, 2], points: expand(chlRows, chlPts),
    depthMajor: [0, 20, 40], depthMinor: [10, 30, 50], valMajor: [0.5, 1, 1.5, 2], valMinor: [0.75, 1.25, 1.75],
    fmt: '~g', tickSize: 16, titleSize: 19.5, depthGap: 8, valGap: 17, depthY: 1670, odvY: 1180.5, odvSize: 10.5,
    title: ['ChlA [volt]', 649, 1404]
});

// station map
const mapBox = { x0: 731.5, x1: 1160, y0: 1204.5, y1: 1665.5 };
const xLat = d3.scaleLinear().domain([54.4, 53.6]).range([777.3, 1113.3]);
const yLon = d3.scaleLinear().domain([7.5, 9]).range([1664.5, 1296]);
const shape = d3.line().x(d => xLat(d[0])).y(d => yLon(d[1]));

const mapG = svg.append('g');
defs.append('clipPath').attr('id', 'clipMap').append('rect')
    .attr('x', mapBox.x0).attr('y', mapBox.y0)
    .attr('width', mapBox.x1 - mapBox.x0).attr('height', mapBox.y1 - mapBox.y0);
const inner = mapG.append('g').attr('clip-path', 'url(#clipMap)');
inner.append('rect').attr('x', mapBox.x0).attr('y', mapBox.y0)
    .attr('width', mapBox.x1 - mapBox.x0).attr('height', mapBox.y1 - mapBox.y0).attr('fill', '#cfbfb2');

function fillShapes(list, color) {
    inner.append('g').selectAll('path').data(list).join('path')
        .attr('d', d => shape(d) + 'Z').attr('fill', color);
}
fillShapes(shelfLight, '#dad2c6');
fillShapes(shelfGrey, '#cad5cc');
fillShapes([shelfTeal], '#aed2d3');
fillShapes([shelfBlue], '#a2c4df');
fillShapes([helgolandBank], '#dad2c6');
fillShapes([helgolandFlat], '#cfbfb2');
fillShapes(land, '#5f5f5f');

inner.append('g').selectAll('line').data(mapLatTicks).join('line')
    .attr('x1', d => xLat(d)).attr('x2', d => xLat(d)).attr('y1', mapBox.y0).attr('y2', mapBox.y1)
    .attr('stroke', '#222').attr('stroke-opacity', 0.75);
inner.append('g').selectAll('line').data(mapLonTicks).join('line')
    .attr('y1', d => yLon(d)).attr('y2', d => yLon(d)).attr('x1', mapBox.x0).attr('x2', mapBox.x1)
    .attr('stroke', '#222').attr('stroke-opacity', 0.75);

inner.append('g').selectAll('circle').data(stationLat).join('circle')
    .attr('cx', d => xLat(d)).attr('cy', (d, i) => yLon(stationLon[i])).attr('r', 3.3).attr('fill', '#0000ff');

// chequered frame
const band = 3;
const frame = mapG.append('g');
frame.append('rect').attr('x', mapBox.x0 - band).attr('y', mapBox.y0 - band)
    .attr('width', mapBox.x1 - mapBox.x0 + 2 * band).attr('height', mapBox.y1 - mapBox.y0 + 2 * band)
    .attr('fill', 'none').attr('stroke', '#fff').attr('stroke-width', 3);
frame.append('rect').attr('x', mapBox.x0 - 1.5).attr('y', mapBox.y0 - 2.5)
    .attr('width', mapBox.x1 - mapBox.x0 + 3).attr('height', mapBox.y1 - mapBox.y0 + 5)
    .attr('fill', 'none').attr('stroke', '#999');
[mapBox.y0 - band, mapBox.y1].forEach(top => {
    frame.append('g').selectAll('rect').data(latBands).join('rect')
        .attr('x', d => xLat(d[0])).attr('width', d => xLat(d[1]) - xLat(d[0]))
        .attr('y', top).attr('height', band).attr('fill', '#000');
});
[mapBox.x0 - band, mapBox.x1].forEach(left => {
    frame.append('g').selectAll('rect').data(lonBands).join('rect')
        .attr('y', d => yLon(d[0])).attr('height', d => yLon(d[1]) - yLon(d[0]))
        .attr('x', left).attr('width', band).attr('fill', '#000');
});

mapLatTicks.forEach(d => rotatedLabel(svg, xLat(d), 1675, -90, 19, d3.format('~g')(d) + '°N', 'end'));
mapLonTicks.forEach(d => rotatedLabel(svg, 1175, yLon(d), -90, 19, d3.format('~g')(d) + '°E'));
odvLabel(1157, 1193, 12);
</script>
</body>
</html>
